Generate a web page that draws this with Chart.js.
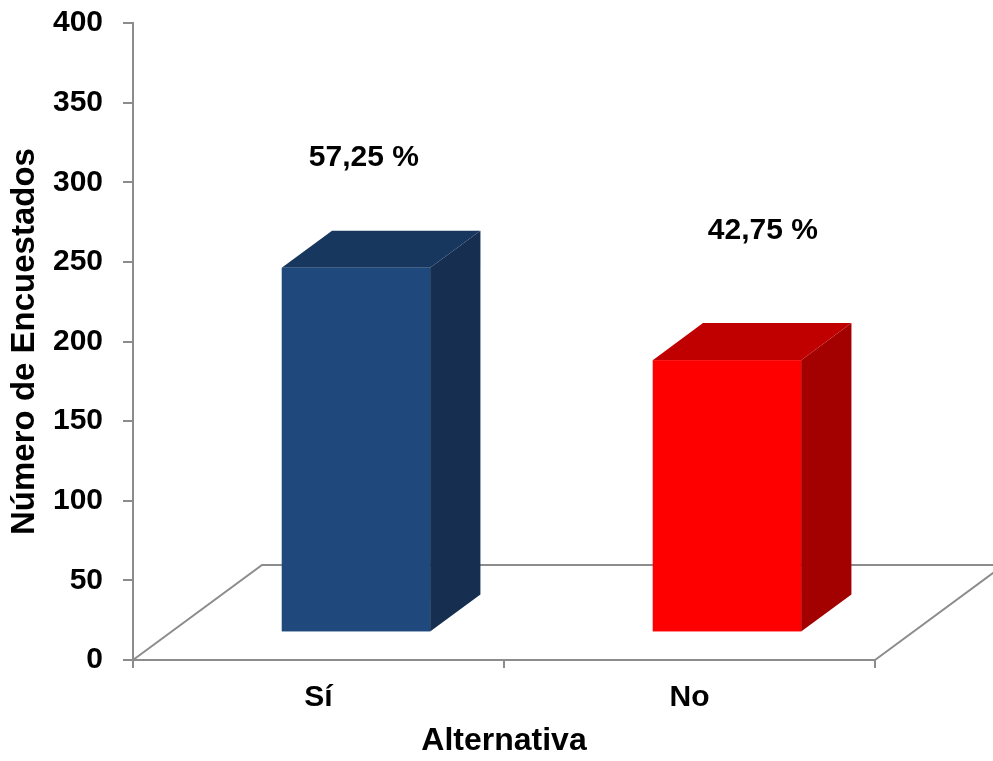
<!DOCTYPE html>
<html>
<head>
<meta charset="utf-8">
<script src="https://cdn.jsdelivr.net/npm/chart.js@4/dist/chart.umd.min.js"></script>
<style>
  html, body { margin: 0; padding: 0; background: #fff; }
  #wrap { width: 993px; height: 761px; }
</style>
</head>
<body>
<div id="wrap"><canvas id="chart" width="993" height="761"></canvas></div>
<script>
  "use strict";

  const categories = ["Sí", "No"];
  const respondents = [229, 171];
  const percentLabels = ["57,25 %", "42,75 %"];
  const yTicks = [0, 50, 100, 150, 200, 250, 300, 350, 400];

  const FONT = "'Liberation Sans', Arial, sans-serif";
  const AXIS_GRAY = "#8c8c8c";

  const faces = [
    { front: "#1f497d", top: "#17375e", side: "#162f50" },
    { front: "#ff0000", top: "#c00000", side: "#a30000" }
  ];

  // floor depth in px, bar occupies part of that depth
  const depth = { dx: 129, dy: 95, barFrom: 0.29, barTo: 0.68 };

  const threeD = {
    id: "threeD",

    beforeDatasetsDraw(chart) {
      const { ctx, chartArea } = chart;
      const base = chart.scales.y.getPixelForValue(0);
      ctx.save();
      ctx.strokeStyle = AXIS_GRAY;
      ctx.lineWidth = 2;
      ctx.beginPath();
      ctx.moveTo(chartArea.left, base);
      ctx.lineTo(chartArea.left + depth.dx, base - depth.dy);
      ctx.lineTo(chartArea.right + depth.dx, base - depth.dy);
      ctx.moveTo(chartArea.right, base);
      ctx.lineTo(chartArea.right + depth.dx, base - depth.dy);
      ctx.stroke();
      ctx.restore();
    },

    afterDatasetsDraw(chart, args, opts) {
      const { ctx } = chart;
      const meta = chart.getDatasetMeta(0);
      const fx = depth.dx * depth.barFrom, fy = depth.dy * depth.barFrom;
      const bx = depth.dx * (depth.barTo - depth.barFrom);
      const by = depth.dy * (depth.barTo - depth.barFrom);

      meta.data.forEach((bar, i) => {
        const c = faces[i];
        const l = bar.x - bar.width / 2 + fx;
        const r = bar.x + bar.width / 2 + fx;
        const t = bar.y - fy;
        const b = bar.base - fy;

        ctx.save();
        // right side
        ctx.fillStyle = c.side;
        ctx.beginPath();
        ctx.moveTo(r, t);
        ctx.lineTo(r + bx, t - by);
        ctx.lineTo(r + bx, b - by);
        ctx.lineTo(r, b);
        ctx.closePath();
        ctx.fill();
        // top
        ctx.fillStyle = c.top;
        ctx.beginPath();
        ctx.moveTo(l, t);
        ctx.lineTo(l + bx, t - by);
        ctx.lineTo(r + bx, t - by);
        ctx.lineTo(r, t);
        ctx.closePath();
        ctx.fill();
        // front
        ctx.fillStyle = c.front;
        ctx.fillRect(l, t, r - l, b - t);

        const off = opts.labelOffsets[i];
        ctx.fillStyle = "#000";
        ctx.font = "bold 30px " + FONT;
        ctx.textAlign = "center";
        ctx.textBaseline = "middle";
        ctx.fillText(percentLabels[i], (l + r) / 2 + off.dx, t + off.dy);
        ctx.restore();
      });
    }
  };

  new Chart(document.getElementById("chart"), {
    type: "bar",
    data: {
      labels: categories,
      datasets: [
        {
          data: respondents,
          backgroundColor: "rgba(0,0,0,0)",
          borderWidth: 0,
          barPercentage: 0.4,
          categoryPercentage: 1
        }
      ]
    },
    plugins: [threeD],
    options: {
      responsive: false,
      animation: false,
      layout: { padding: { top: 23, right: 118, left: 0, bottom: 0 } },
      plugins: {
        legend: { display: false },
        tooltip: { enabled: false },
        threeD: {
          labelOffsets: [
            { dx: 8, dy: -110 },
            { dx: 36, dy: -129 }
          ]
        }
      },
      scales: {
        x: {
          afterFit: s => {
            s.height = 101;
            s.paddingLeft = 0;
            s.paddingRight = 0;
          },
          border: { color: AXIS_GRAY, width: 2 },
          grid: { drawOnChartArea: false, tickLength: 8, color: AXIS_GRAY, lineWidth: 2 },
          ticks: {
            color: "#000",
            padding: 12,
            font: { family: FONT, size: 30, weight: "bold" }
          },
          title: {
            display: true,
            text: "Alternativa",
            color: "#000",
            padding: { top: 0, bottom: 1 },
            font: { family: FONT, size: 32, weight: "bold", lineHeight: 1.2 }
          }
        },
        y: {
          min: 0,
          max: 400,
          afterFit: s => {
            s.width = 133;
            s.paddingTop = 0;
            s.paddingBottom = 0;
          },
          afterBuildTicks: s => { s.ticks = yTicks.map(v => ({ value: v })); },
          border: { color: AXIS_GRAY, width: 2 },
          grid: { drawOnChartArea: false, tickLength: 10, color: AXIS_GRAY, lineWidth: 2 },
          ticks: {
            color: "#000",
            padding: 20,
            font: { family: FONT, size: 30, weight: "bold" }
          },
          title: {
            display: true,
            text: "Número de Encuestados",
            color: "#000",
            padding: { top: 5, bottom: 0 },
            font: { family: FONT, size: 33, weight: "bold", lineHeight: 1.2 }
          }
        }
      }
    }
  });
</script>
</body>
</html>
